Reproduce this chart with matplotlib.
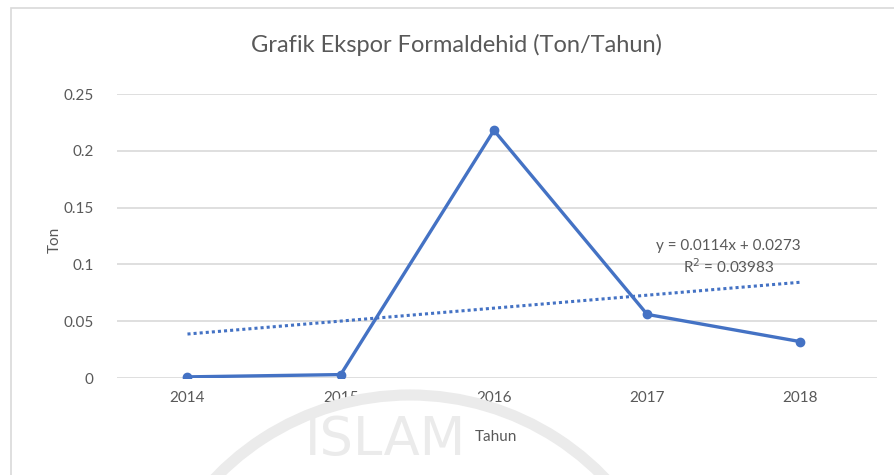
import matplotlib.pyplot as plt
from matplotlib.patches import Rectangle, Arc

# data
years = ['2014', '2015', '2016', '2017', '2018']
ekspor = [0.001, 0.003, 0.218, 0.056, 0.032]
trend_slope = 0.0114
trend_icept = 0.0273
trend_label = 'y = 0.0114x + 0.0273\nR$^2$ = 0.03983'
y_ticks = [0, 0.05, 0.1, 0.15, 0.2, 0.25]
y_tick_labels = ['0', '0.05', '0.1', '0.15', '0.2', '0.25']

plt.rcParams['font.family'] = ['Lato', 'DejaVu Sans']
blue = '#4472C4'
grey_txt = '#595959'
wm = '#ebebeb'

fig = plt.figure(figsize=(8.95, 4.75), dpi=100)
W, H = 895, 475

# outer chart frame (light grey, partly cut off by the scan)
fig.patches.append(Rectangle((11.5 / W, -0.1), 1.2, 1 - 8 / H + 0.1,
                             transform=fig.transFigure, fill=False,
                             edgecolor='#d9d9d9', linewidth=1.2))

# faint watermark from the scanned page
fig.text(386 / W, 1 - 455 / H, 'ISLAM', ha='center', va='baseline',
         fontsize=38, color=wm, family='DejaVu Sans', zorder=0)
fig.patches.append(Arc((410 / W, 1 - 665 / H), 540 / W, 540 / H, theta1=40,
                       theta2=140, transform=fig.transFigure,
                       color=wm, linewidth=8, zorder=0))

ax = fig.add_axes([117 / W, 1 - 378 / H, 760 / W, 284 / H])
ax.patch.set_alpha(0)
x = list(range(len(years)))

# trend line (linear, Excel style x = 1..n)
tx = [x[0], x[-1]]
ty = [trend_slope * (v + 1) + trend_icept for v in tx]
ax.plot(tx, ty, color=blue, linestyle=(0, (1, 1)), linewidth=2.2, zorder=3)

ax.plot(x, ekspor, color=blue, linewidth=2.4, marker='o', markersize=6, zorder=4)

ax.set_xlim(-0.46, 4.5)
ax.set_ylim(0, 0.25)
ax.set_yticks(y_ticks)
ax.set_yticklabels(y_tick_labels)
ax.set_xticks(x)
ax.set_xticklabels(years)
ax.grid(axis='y', color='#d9d9d9', linewidth=1.2)
ax.set_axisbelow(True)
for s in ax.spines.values():
    s.set_visible(False)
ax.tick_params(length=0, labelsize=11, colors=grey_txt, pad=9)
ax.tick_params(axis='y', pad=17)

ax.text(3.53, 0.106, trend_label, ha='center', va='center', fontsize=11,
        color=grey_txt, linespacing=1.25)

fig.text(457 / W, 1 - 45 / H, 'Grafik Ekspor Formaldehid (Ton/Tahun)',
         ha='center', va='center', fontsize=17, color=grey_txt)
fig.text(55 / W, 1 - 240 / H, 'Ton', rotation=90, ha='center', va='center',
         fontsize=11, color=grey_txt)
fig.text(496 / W, 1 - 437 / H, 'Tahun', ha='center', va='center',
         fontsize=11, color=grey_txt)

fig.savefig('out.png', dpi=100)
